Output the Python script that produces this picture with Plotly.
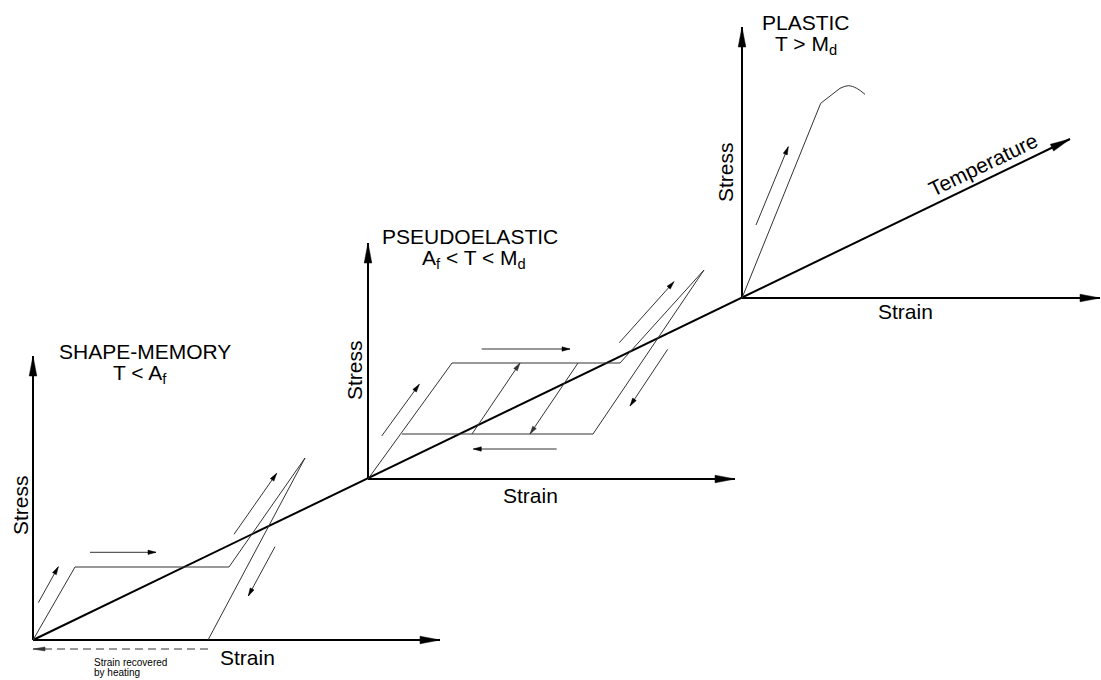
import numpy as np
import plotly.graph_objects as go

# ---------------------------------------------------------------------------
# Drawing units: x to the right, y downwards (0..1101 by 0..680)
# ---------------------------------------------------------------------------

# Stress/strain frames for the three regimes
panel_names = ["SHAPE-MEMORY", "PSEUDOELASTIC", "PLASTIC"]
origin_x = [33, 368, 742]
origin_y = [640, 479, 298]
stress_tip_y = [356, 243, 27]
strain_tip_x = [440, 735, 1100]

# Temperature axis running through the three frame origins
temp_x = [33, 1070]
temp_y = [640, 139]

# Shape-memory response: load, plateau, peak, elastic unload
sm_x = [33, 75, 229, 305, 208]
sm_y = [640, 567, 567, 458, 640]

# Pseudoelastic hysteresis loop
pe_x = [368, 452, 620, 704, 593, 402]
pe_y = [479, 363, 363, 270, 434, 434]
# partial reload / unload paths inside the loop (start -> end)
pe_inner_x0 = [472, 578]
pe_inner_y0 = [434, 363]
pe_inner_x1 = [520, 530]
pe_inner_y1 = [363, 434]

# Plastic response: elastic line then a rounded yield cap
pl_x = [742, 820.7, 840]
pl_y = [298, 103.3, 88.3]
pl_cap_x = [840, 848.3, 856.7, 865]
pl_cap_y = [88.3, 85.7, 88.3, 94.3]

# Small direction arrows (tail -> tip)
dir_x0 = [38.3, 90, 234, 275, 381.7, 481.7, 556.7, 619.3, 667.7, 756]
dir_y0 = [602.7, 552.3, 534.3, 546.7, 436, 349, 449, 342.7, 349.3, 225]
dir_x1 = [58.3, 156, 276.7, 248.3, 419.3, 570, 473.3, 674, 630, 788.3]
dir_y1 = [566.7, 552.3, 473.3, 596, 384.3, 349, 449, 281.7, 406, 146.7]

# Dashed "strain recovered" arrow
rec_x = [208, 33]
rec_y = [649, 649]

FONT = "Liberation Sans, Arial, Helvetica, sans-serif"
BLACK = "#000000"
THIN = "#333333"

fig = go.Figure()


def heads(x0, y0, x1, y1, length, half):
    """Filled triangular arrowheads at (x1, y1), pointing away from (x0, y0)."""
    hx, hy = [], []
    for a, b, c, d in zip(x0, y0, x1, y1):
        v = np.array([c - a, d - b], float)
        u = v / np.hypot(*v)
        n = np.array([-u[1], u[0]])
        tip = np.array([c, d], float)
        base = tip - length * u
        p1 = base + half * n
        p2 = base - half * n
        hx += [tip[0], p1[0], p2[0], tip[0], None]
        hy += [tip[1], p1[1], p2[1], tip[1], None]
    return hx, hy


def polyline(xs, ys, width, color, dash="solid", shape="linear"):
    fig.add_trace(go.Scatter(x=xs, y=ys, mode="lines",
                             line=dict(width=width, color=color, dash=dash, shape=shape),
                             hoverinfo="skip", showlegend=False))


def head_trace(hx, hy, color):
    fig.add_trace(go.Scatter(x=hx, y=hy, mode="lines", fill="toself",
                             fillcolor=color, line=dict(width=0.5, color=color),
                             hoverinfo="skip", showlegend=False))


# Frame axes
ax0x, ax0y, ax1x, ax1y = [], [], [], []
for ox, oy, sy, sx in zip(origin_x, origin_y, stress_tip_y, strain_tip_x):
    polyline([ox, ox], [oy, sy], 2, BLACK)
    polyline([ox, sx], [oy, oy], 2, BLACK)
    ax0x += [ox, ox]
    ax0y += [oy, oy]
    ax1x += [ox, sx]
    ax1y += [sy, oy]

# Temperature axis
polyline(temp_x, temp_y, 2, BLACK)
ax0x.append(temp_x[0]); ax0y.append(temp_y[0])
ax1x.append(temp_x[1]); ax1y.append(temp_y[1])
hx, hy = heads(ax0x, ax0y, ax1x, ax1y, 20, 3.8)
head_trace(hx, hy, BLACK)

# Material responses
polyline(sm_x, sm_y, 1, THIN)
polyline(pe_x, pe_y, 1, THIN)
for a, b, c, d in zip(pe_inner_x0, pe_inner_y0, pe_inner_x1, pe_inner_y1):
    polyline([a, c], [b, d], 1, THIN)
hx, hy = heads(pe_inner_x0, pe_inner_y0, pe_inner_x1, pe_inner_y1, 8, 2.2)
head_trace(hx, hy, THIN)
polyline(pl_x, pl_y, 1, THIN)
polyline(pl_cap_x, pl_cap_y, 1, THIN, shape="spline")

# Direction arrows
for a, b, c, d in zip(dir_x0, dir_y0, dir_x1, dir_y1):
    polyline([a, c], [b, d], 1, THIN)
hx, hy = heads(dir_x0, dir_y0, dir_x1, dir_y1, 8, 2.2)
head_trace(hx, hy, BLACK)

# Strain recovered by heating
polyline(rec_x, rec_y, 1, THIN, dash="8px,5px")
hx, hy = heads([rec_x[0]], [rec_y[0]], [rec_x[1]], [rec_y[1]], 12, 2)
head_trace(hx, hy, THIN)


def label(x, y, text, size=21, angle=0, xanchor="center"):
    fig.add_annotation(x=x, y=y, xref="x", yref="y", text=text, showarrow=False,
                       textangle=angle, xanchor=xanchor, yanchor="middle",
                       font=dict(family=FONT, size=size, color=BLACK))


# Regime titles
label(145, 351, panel_names[0], 21)
label(140, 374, "T &lt; A<sub>f</sub>", 21)
label(470, 236, panel_names[1], 21)
label(474, 259, "A<sub>f</sub> &lt; T &lt; M<sub>d</sub>", 21)
label(806, 22, panel_names[2], 21)
label(806, 45, "T &gt; M<sub>d</sub>", 21)

# Axis names
for sx, sy in [(20, 505), (354, 370), (725, 172)]:
    label(sx, sy, "Stress", 21, angle=-90)
for sx, sy in [(247, 657), (530, 495), (905, 311)]:
    label(sx, sy, "Strain", 21)
label(983, 164, "Temperature", 21, angle=-25.8)

label(92, 662, "Strain recovered", 10, xanchor="left")
label(92, 672, "by heating", 10, xanchor="left")

fig.update_layout(
    width=1101, height=680,
    margin=dict(l=0, r=0, t=0, b=0),
    paper_bgcolor="white", plot_bgcolor="white",
    xaxis=dict(range=[0, 1101], visible=False, fixedrange=True),
    yaxis=dict(range=[680, 0], visible=False, fixedrange=True),
    showlegend=False,
)

fig.write_html("out.html")
